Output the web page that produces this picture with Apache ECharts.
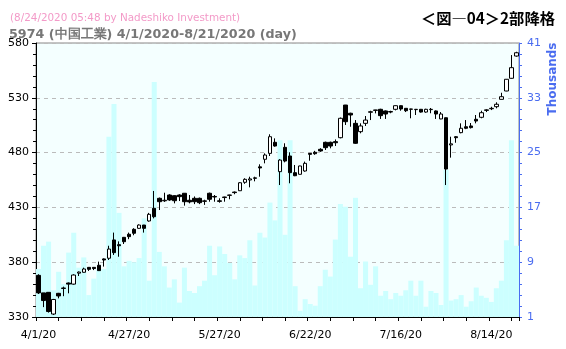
<!DOCTYPE html>
<html>
<head>
<meta charset="utf-8">
<script src="https://cdn.jsdelivr.net/npm/echarts@6/dist/echarts.min.js"></script>
<style>
  html, body { margin: 0; padding: 0; background: #fff; }
  #chart { width: 566px; height: 349px; }
</style>
</head>
<body>
<div id="chart"></div>
<script>
// trading days 4/1/2020 - 8/21/2020
const dates = [
  '4/1/20','4/2/20','4/3/20','4/6/20','4/7/20','4/8/20','4/9/20','4/10/20','4/13/20','4/14/20',
  '4/15/20','4/16/20','4/17/20','4/20/20','4/21/20','4/22/20','4/23/20','4/24/20','4/27/20','4/28/20',
  '4/30/20','5/1/20','5/7/20','5/8/20','5/11/20','5/12/20','5/13/20','5/14/20','5/15/20','5/18/20',
  '5/19/20','5/20/20','5/21/20','5/22/20','5/25/20','5/26/20','5/27/20','5/28/20','5/29/20','6/1/20',
  '6/2/20','6/3/20','6/4/20','6/5/20','6/8/20','6/9/20','6/10/20','6/11/20','6/12/20','6/15/20',
  '6/16/20','6/17/20','6/18/20','6/19/20','6/22/20','6/23/20','6/24/20','6/25/20','6/26/20','6/29/20',
  '6/30/20','7/1/20','7/2/20','7/3/20','7/6/20','7/7/20','7/8/20','7/9/20','7/10/20','7/13/20',
  '7/14/20','7/15/20','7/16/20','7/17/20','7/20/20','7/21/20','7/22/20','7/27/20','7/28/20','7/29/20',
  '7/30/20','7/31/20','8/3/20','8/4/20','8/5/20','8/6/20','8/7/20','8/11/20','8/12/20','8/13/20',
  '8/14/20','8/17/20','8/18/20','8/19/20','8/20/20','8/21/20'
];
const labelDays = ['4/1/20', '4/27/20', '5/27/20', '6/22/20', '7/16/20', '8/14/20'];

const opens = [
  368, 352, 352.5, 332.7, 351.6, 356, 361, 360, 370, 370.8,
  375.3, 375.3, 377.2, 383, 383.6, 400.3, 396, 402.7, 405.5, 410,
  410.9, 413.9, 417.6, 429.2, 438.3, 436, 441.3, 440.7, 441.3, 442.9,
  436.5, 438.3, 438.3, 435.5, 442.9, 440, 436, 439, 441, 444,
  445.2, 452.9, 455, 456.5, 467, 473.9, 479.3, 489.4, 462.6, 484.8,
  476.9, 461.7, 460.2, 463.2, 479.3, 480.3, 483, 489.4, 489.4, 490,
  493.6, 523.4, 515.9, 506.7, 499.1, 506.7, 516.8, 518.5, 519.5, 518,
  517, 519.5, 522.8, 520.4, 519.5, 519.2, 519.5, 517, 519.2, 518,
  510.7, 511.8, 487, 494.5, 498.2, 503.6, 504.3, 510.4, 512.2, 518.5,
  520, 521.9, 528.6, 536.2, 547.8, 568.1
];
const closes = [
  352, 345, 335, 346, 349.2, 356.5, 360, 368.3, 371, 373.8,
  373.5, 374.2, 372.3, 382, 392, 388.7, 395, 398.7, 403.3, 406.4,
  413.9, 410.9, 423.7, 421.5, 435.2, 436.5, 436.8, 436.1, 439.8, 435.2,
  435, 435.2, 434.3, 436, 437.4, 439.5, 435.5, 439.5, 441.3, 443.5,
  452.5, 455.6, 456, 457, 466, 477.8, 494.5, 486, 473.2, 472.3,
  461.7, 458.9, 467.8, 470.2, 478.4, 479, 481.5, 484.5, 486, 489,
  511.3, 508.2, 514.3, 488.5, 504.3, 509.7, 517.3, 518.9, 513.7, 515.2,
  517.5, 522.8, 519.8, 518.2, 519.8, 519.5, 517, 519.5, 519.5, 515.2,
  515.2, 465, 488, 493.6, 502.2, 502.2, 502.8, 508.8, 516.4, 519,
  520.4, 524.1, 531, 546.9, 557.5, 571.1
];
const lows = [
  351, 339, 334, 331.8, 347, 349, 351.6, 359.5, 367.4, 370.5,
  372, 372.8, 372, 376, 382, 386.6, 385, 396.6, 401, 404.6,
  410.5, 407, 417, 420, 427.6, 435, 436, 433.7, 435.8, 431.6,
  433.7, 433, 433, 432.3, 435.2, 435.2, 434.3, 435.2, 437.4, 442,
  445, 451.5, 448.3, 453.8, 458, 470.2, 476.9, 485.4, 450.4, 471.1,
  452, 458.5, 460, 462.6, 472.6, 478, 480.7, 482.4, 483.9, 486,
  493, 505.2, 503.6, 488, 497.6, 504.3, 509.7, 515.8, 510.7, 510.7,
  515.9, 518.5, 518.2, 517, 511.3, 514.3, 516.5, 516.4, 515.9, 510.7,
  510.5, 450.4, 475.4, 489, 497.6, 501.4, 502, 506.7, 511.3, 517,
  518.8, 520.4, 528.6, 536, 547.5, 567.5
];
const highs = [
  369, 352, 352.5, 346.5, 352, 357.7, 361.5, 369, 371.5, 375,
  375.5, 375.5, 380.5, 383.5, 395, 407, 399, 403, 407, 411,
  414.5, 414, 425, 445, 439, 443.4, 442, 441, 442, 443,
  441.3, 440, 439, 437, 443.5, 441.3, 438.3, 439.8, 441.5, 444.5,
  453, 456.6, 458, 458, 469.3, 479.3, 496.7, 493, 474, 488.5,
  480.3, 468.7, 468, 471.8, 479.5, 481.6, 484, 490, 490, 492,
  512, 523.5, 516.4, 509.7, 506.7, 513.4, 518.2, 519, 520, 518.5,
  518.2, 523.1, 523, 520.5, 520, 519.8, 519.8, 520, 520.7, 518.5,
  517, 512, 494.5, 495, 506.7, 509.7, 507, 514.3, 518.2, 519.5,
  521.8, 525.9, 534.6, 547, 569, 572
];
// volume, thousands of shares
const volumes = [
  8, 11.4, 12, 4.9, 7.6, 5.8, 10.4, 13.3, 8.2, 9.7,
  4.2, 6.6, 8, 8, 27.3, 32.1, 16.2, 8.4, 9.2, 9,
  9.6, 15.4, 6.3, 35.3, 10.5, 8.4, 5.3, 6.5, 3.1, 8.2,
  4.8, 4.5, 5.5, 6.3, 11.4, 7.1, 11.3, 10.2, 8.9, 6.5,
  10, 9.6, 12.2, 5.6, 13.3, 12.6, 17.7, 15.1, 26.8, 13,
  26.8, 5.5, 1.9, 3.6, 2.9, 2.65, 5.5, 7.9, 6.9, 12.3,
  17.5, 17.1, 9.8, 18.4, 5.2, 9.1, 5.7, 8.4, 4.1, 4.8,
  3.6, 4.5, 4.1, 4.9, 6.3, 4.1, 6.3, 2.5, 4.8, 4.5,
  2.75, 22.5, 3.4, 3.6, 4.2, 2.5, 3.3, 5.3, 4.1, 3.8,
  3.2, 5.2, 6.3, 12.2, 26.8, 11.4
];

const priceLabels = [330, 380, 430, 480, 530, 580];
const volLabels = [1, 9, 17, 25, 33, 41];
const volTicks = [
  1, 2.6, 4.2, 5.8, 7.4, 9, 10.6, 12.2, 13.8, 15.4, 17, 18.6, 20.2,
  21.8, 23.4, 25, 26.6, 28.2, 29.8, 31.4, 33, 34.6, 36.2, 37.8, 39.4, 41
];

const candles = opens.map((o, i) => [o, closes[i], lows[i], highs[i]]);

const FONT = '"DejaVu Sans", Verdana, sans-serif';
const BLUE = '#4a6cf0';

const chart = echarts.init(document.getElementById('chart'));
chart.setOption({
  animation: false,
  backgroundColor: '#fff',
  title: [
    {
      text: '(8/24/2020 05:48 by Nadeshiko Investment)',
      left: 5, top: 8,
      textStyle: { color: '#f39ac8', fontSize: 10.4, fontWeight: 'normal', fontFamily: FONT }
    },
    {
      text: '5974 (中国工業) 4/1/2020-8/21/2020 (day)',
      left: 4, top: 23,
      textStyle: { color: '#777', fontSize: 12.7, fontWeight: 'bold', fontFamily: FONT }
    },
    {
      text: '＜図―04＞2部降格',
      right: 6, top: 6,
      textStyle: { color: '#000', fontSize: 15.3, fontWeight: 'bold', fontFamily: '"Noto Sans CJK JP", sans-serif' }
    }
  ],
  graphic: [
    {
      type: 'text',
      x: 553, y: 79,
      rotation: Math.PI / 2,
      style: {
        text: 'Thousands',
        fill: BLUE,
        font: 'bold 12px ' + FONT,
        textAlign: 'center',
        textVerticalAlign: 'middle'
      }
    }
  ],
  grid: {
    left: 36, right: 47, top: 43, bottom: 32,
    show: true,
    backgroundColor: '#f4ffff',
    borderColor: '#888',
    borderWidth: 1
  },
  xAxis: [
    {
      type: 'category',
      data: dates,
      boundaryGap: true,
      axisLine: { lineStyle: { color: '#000' } },
      axisTick: { show: false },
      axisLabel: {
        interval: (idx, val) => labelDays.includes(val),
        color: '#000', fontSize: 11, fontFamily: FONT, margin: 13
      },
      splitLine: { show: false }
    },
    {
      // tick marks only, evenly spaced under the date axis
      type: 'value',
      min: 0, max: dates.length, interval: 4.5,
      position: 'bottom',
      axisLine: { show: false },
      axisTick: { show: true, length: 4, lineStyle: { color: '#000' } },
      axisLabel: { show: false },
      splitLine: { show: false }
    }
  ],
  yAxis: [
    {
      type: 'value',
      min: 330, max: 580,
      position: 'left',
      axisLine: { show: true, lineStyle: { color: '#000' } },
      axisTick: { show: true, length: 4, customValues: priceLabels, lineStyle: { color: '#000' } },
      axisLabel: { customValues: priceLabels, color: '#000', fontSize: 11, fontFamily: FONT, margin: 7 },
      splitLine: { show: true, lineStyle: { color: '#bbb', type: [4, 4] } }
    },
    {
      // minor ticks on the price axis
      type: 'value',
      min: 330, max: 580, interval: 10,
      position: 'left',
      axisLine: { show: false },
      axisTick: { show: true, length: 3, lineStyle: { color: '#000' } },
      axisLabel: { show: false },
      splitLine: { show: false }
    },
    {
      type: 'value',
      min: 1, max: 41,
      position: 'right',
      axisLine: { show: true, lineStyle: { color: BLUE } },
      axisTick: { show: true, length: 3, customValues: volTicks, lineStyle: { color: BLUE } },
      axisLabel: { customValues: volLabels, color: BLUE, fontSize: 11, fontFamily: FONT, margin: 8 },
      splitLine: { show: false }
    }
  ],
  series: [
    {
      name: 'Volume',
      type: 'bar',
      xAxisIndex: 0,
      yAxisIndex: 2,
      data: volumes,
      barWidth: '100%',
      barGap: '0%',
      itemStyle: { color: '#ccffff' },
      silent: true
    },
    {
      name: '5974',
      type: 'candlestick',
      xAxisIndex: 0,
      yAxisIndex: 0,
      data: candles,
      barWidth: 4,
      itemStyle: {
        color: '#fff',
        color0: '#000',
        borderColor: '#000',
        borderColor0: '#000',
        borderWidth: 1
      }
    }
  ]
});
</script>
</body>
</html>
